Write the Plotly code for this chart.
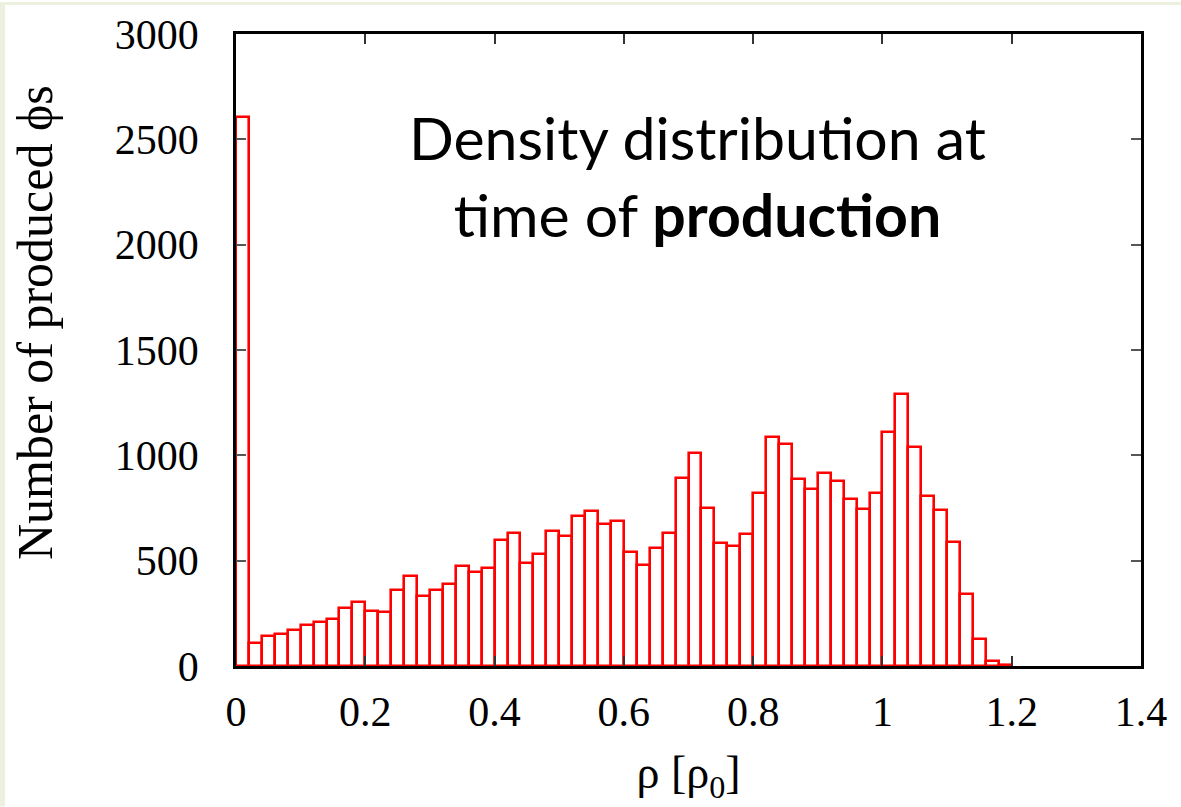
import plotly.graph_objects as go

# Histogram of density at time of production, 60 bins of width 0.02 from 0 to 1.2
bin_width = 0.02
bin_left = [round(i * bin_width, 2) for i in range(60)]
counts = [
    2605, 110, 142, 153, 169, 196, 209, 224, 275, 302,
    259, 256, 363, 428, 330, 363, 390, 474, 447, 463,
    599, 632, 487, 532, 641, 618, 712, 735, 675, 687,
    543, 480, 558, 632, 894, 1013, 752, 586, 570, 627,
    821, 1088, 1052, 889, 842, 916, 878, 795, 747, 823,
    1111, 1291, 1038, 806, 739, 591, 344, 130, 24, 3,
]
bin_center = [round(b + bin_width / 2, 3) for b in bin_left]

x_ticks = [0, 0.2, 0.4, 0.6, 0.8, 1.0, 1.2, 1.4]
x_tick_text = ["0", "0.2", "0.4", "0.6", "0.8", "1", "1.2", "1.4"]
y_ticks = [0, 500, 1000, 1500, 2000, 2500, 3000]
y_tick_text = ["0", "500", "1000", "1500", "2000", "2500", "3000"]

serif = "Liberation Serif, Times New Roman, serif"

fig = go.Figure()
fig.add_trace(go.Bar(
    x=bin_center, y=counts, width=bin_width,
    marker=dict(color="white", line=dict(color="#ff0000", width=2.6)),
    hoverinfo="x+y", showlegend=False,
))

fig.update_layout(
    width=1181, height=807,
    margin=dict(l=236, r=40, t=32, b=141),
    paper_bgcolor="white", plot_bgcolor="white",
    bargap=0,
    xaxis=dict(
        range=[0, 1.4], tickvals=x_ticks, ticktext=x_tick_text,
        showgrid=False, zeroline=False,
        showline=True, linecolor="black", linewidth=2.5, mirror="ticks",
        ticks="inside", ticklen=10, tickwidth=1.5, tickcolor="#333",
        tickfont=dict(family=serif, size=42, color="black"),
        ticklabelstandoff=7,
        title=dict(text="ρ [ρ<sub>0</sub>]", font=dict(family=serif, size=46, color="black"), standoff=22),
    ),
    yaxis=dict(
        range=[0, 3000], tickvals=y_ticks, ticktext=y_tick_text,
        showgrid=False, zeroline=False,
        showline=True, linecolor="black", linewidth=2.5, mirror="ticks",
        ticks="inside", ticklen=10, tickwidth=1.5, tickcolor="#555",
        tickfont=dict(family=serif, size=42, color="black"),
        ticklabelstandoff=26,
    ),
    annotations=[
        dict(
            text="Density distribution at<br>time of <b>production</b>",
            xref="paper", yref="paper", x=0.51, y=0.775, xanchor="center", yanchor="middle",
            showarrow=False, align="center",
            font=dict(family="Lato, Noto Sans, sans-serif", size=59, color="black"),
        ),
        dict(
            text="Number of produced ϕs",
            xref="paper", yref="paper", x=(35 - 236) / 905, y=(666 - 322) / 634,
            xanchor="center", yanchor="middle", textangle=-90, showarrow=False,
            font=dict(family=serif, size=50, color="black"),
        ),
    ],
    shapes=[
        dict(type="rect", xref="paper", yref="paper", x0=-236/905, x1=-231/905, y0=-141/634, y1=1 + 32/634,
             fillcolor="#ebf1de", line=dict(width=0), layer="below"),
        dict(type="rect", xref="paper", yref="paper", x0=-236/905, x1=1 + 40/905, y0=1 + 29/634, y1=1 + 32/634,
             fillcolor="#ebf1de", line=dict(width=0), layer="below"),
    ],
)

fig.write_html("out.html")
